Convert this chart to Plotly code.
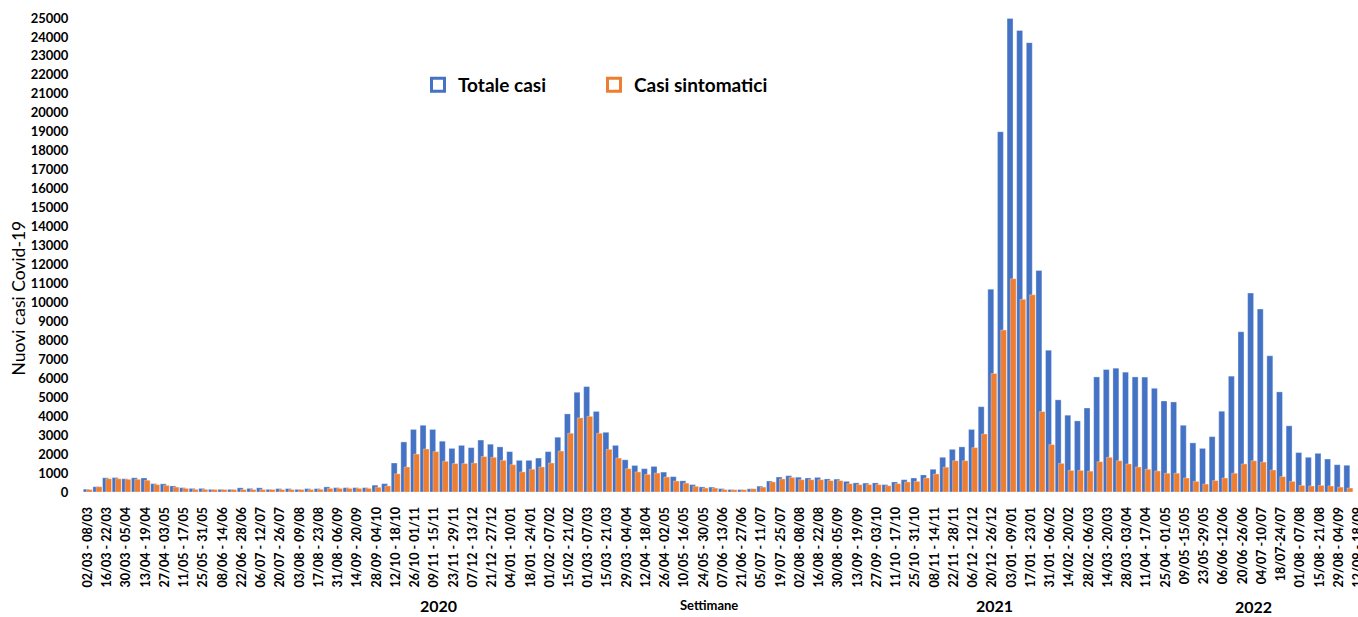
import plotly.graph_objects as go
import pandas as pd

# ---- categories: one entry per week (02/03/2020 ... 12/09/2022) ----
week_starts = pd.date_range("2020-03-02", "2022-09-12", freq="7D")
weeks = [f"{d:%d/%m/%Y} - {(d + pd.Timedelta(days=6)):%d/%m/%Y}" for d in week_starts]

# ---- tick labels shown in the chart (every other week) ----
tick_labels = [
    "02/03 - 08/03", "16/03 - 22/03", "30/03 - 05/04", "13/04 - 19/04", "27/04 - 03/05",
    "11/05 - 17/05", "25/05 - 31/05", "08/06 - 14/06", "22/06 - 28/06", "06/07 - 12/07",
    "20/07 - 26/07", "03/08 - 09/08", "17/08 - 23/08", "31/08 - 06/09", "14/09 - 20/09",
    "28/09 - 04/10", "12/10 - 18/10", "26/10 - 01/11", "09/11 - 15/11", "23/11 - 29/11",
    "07/12 - 13/12", "21/12 - 27/12", "04/01 - 10/01", "18/01 - 24/01", "01/02 - 07/02",
    "15/02 - 21/02", "01/03 - 07/03", "15/03 - 21/03", "29/03 - 04/04", "12/04 - 18/04",
    "26/04 - 02/05", "10/05 - 16/05", "24/05 - 30/05", "07/06 - 13/06", "21/06 - 27/06",
    "05/07 - 11/07", "19/07 - 25/07", "02/08 - 08/08", "16/08 - 22/08", "30/08 - 05/09",
    "13/09 - 19/09", "27/09 - 03/10", "11/10 - 17/10", "25/10 - 31/10", "08/11 - 14/11",
    "22/11 - 28/11", "06/12 - 12/12", "20/12 - 26/12", "03/01 - 09/01", "17/01 - 23/01",
    "31/01 - 06/02", "14/02 - 20/02", "28/02 - 06/03", "14/03 - 20/03", "28/03 - 03/04",
    "11/04 - 17/04", "25/04 - 01/05", "09/05 -15/05", "23/05 -29/05", "06/06 -12/06",
    "20/06 -26/06", "04/07 -10/07", "18/07-24/07", "01/08 - 07/08", "15/08 - 21/08",
    "29/08 - 04/09", "12/09 - 18/09",
]

# ---- series values; last week is cut off in the original ----
totale_casi = [
    150, 280, 750, 760, 700, 750, 740, 440, 430, 320,
    230, 190, 190, 140, 140, 140, 220, 190, 220, 140,
    180, 180, 140, 180, 180, 270, 230, 230, 230, 230,
    360, 440, 1530, 2640, 3300, 3520, 3300, 2680, 2300, 2460,
    2340, 2740, 2520, 2380, 2130, 1670, 1670, 1790, 2130, 2890,
    4120, 5260, 5560, 4250, 3150, 2460, 1700, 1400, 1230, 1350,
    1050, 810, 590, 390, 270, 260, 180, 130, 130, 170,
    310, 580, 790, 860, 780, 740, 770, 690, 680, 560,
    480, 470, 480, 390, 530, 650, 740, 900, 1200, 1830,
    2250, 2380, 3300, 4500, 10700, 19000, 24980, 24340, 23700, 11680,
    7480, 4860, 4050, 3750, 4430, 6070, 6460, 6530, 6320, 6070,
    6060, 5470, 4800, 4750, 3520, 2590, 2300, 2920, 4260, 6110,
    8450, 10490, 9650, 7180, 5280, 3490, 2080, 1830, 2040, 1740,
    1440, 1410, None,
]
casi_sintomatici = [
    130, 280, 700, 700, 670, 670, 620, 390, 350, 260,
    190, 140, 140, 130, 130, 130, 130, 130, 130, 130,
    130, 130, 130, 130, 140, 190, 190, 190, 190, 190,
    250, 320, 960, 1320, 2000, 2270, 2130, 1620, 1500, 1500,
    1530, 1870, 1830, 1670, 1440, 1060, 1200, 1320, 1530, 2160,
    3100, 3910, 3990, 3100, 2250, 1790, 1230, 1060, 930, 1000,
    790, 580, 470, 300, 210, 210, 130, 120, 120, 170,
    260, 530, 690, 770, 650, 650, 650, 600, 600, 440,
    390, 390, 390, 330, 440, 530, 560, 740, 950, 1310,
    1650, 1650, 2340, 3060, 6250, 8540, 11250, 10160, 10400, 4240,
    2500, 1510, 1140, 1140, 1100, 1600, 1830, 1650, 1480, 1320,
    1200, 1110, 990, 990, 740, 560, 420, 600, 740, 990,
    1480, 1650, 1580, 1160, 810, 560, 350, 320, 350, 320,
    260, 210, None,
]

year_labels = ["2020", "2021", "2022"]

BLUE = "#4472C4"
ORANGE = "#ED7D31"
FONT = "Lato"
TXT = "#000000"

W, H = 1358, 617
ML, MR, MT, MB = 83, 0, 18, 125
plot_w = W - ML - MR
plot_h = H - MT - MB

fig = go.Figure()
fig.add_trace(go.Bar(
    x=weeks, y=totale_casi, name="Totale casi",
    marker=dict(color=BLUE, line=dict(color="rgba(255,255,255,0.55)", width=0.6)),
    width=0.62, offset=-0.47, showlegend=False,
))
fig.add_trace(go.Bar(
    x=weeks, y=casi_sintomatici, name="Casi sintomatici",
    marker=dict(color=ORANGE, line=dict(color="rgba(255,255,255,0.55)", width=0.6)),
    width=0.6, offset=-0.13, showlegend=False,
))

# legend entries with hollow square symbols (as in the original)
fig.add_trace(go.Scatter(
    x=[None], y=[None], mode="markers", name="Totale casi", legend="legend",
    marker=dict(symbol="square-open", size=13, color=BLUE, line=dict(width=3, color=BLUE)),
))
fig.add_trace(go.Scatter(
    x=[None], y=[None], mode="markers", name="Casi sintomatici", legend="legend2",
    marker=dict(symbol="square-open", size=13, color=ORANGE, line=dict(width=3, color=ORANGE)),
))

leg_font = dict(family=FONT, size=19, color=TXT, weight="bold")
leg_y = (H - MB - 85) / plot_h

fig.update_layout(
    width=W, height=H,
    margin=dict(l=ML, r=MR, t=MT, b=MB, autoexpand=False),
    paper_bgcolor="white", plot_bgcolor="white",
    barmode="overlay",
    legend=dict(x=(418 - ML) / plot_w, y=leg_y, xanchor="left", yanchor="middle",
                font=leg_font, bgcolor="rgba(0,0,0,0)", itemwidth=30),
    legend2=dict(x=(594 - ML) / plot_w, y=leg_y, xanchor="left", yanchor="middle",
                 font=leg_font, bgcolor="rgba(0,0,0,0)", itemwidth=30),
    xaxis=dict(
        type="category", range=[-0.5, len(weeks) - 1],
        tickmode="array", tickvals=weeks[::2], ticktext=tick_labels,
        tickangle=-90, tickfont=dict(family=FONT, size=12.5, color=TXT, weight="bold"),
        ticks="outside", ticklen=9, tickcolor="rgba(0,0,0,0)",
        showgrid=False, showline=False, zeroline=False, automargin=False,
    ),
    yaxis=dict(
        range=[0, 25000], dtick=1000, tickformat="d",
        tickfont=dict(family=FONT, size=13, color=TXT, weight="bold"),
        ticks="outside", ticklen=11, tickcolor="rgba(0,0,0,0)",
        showgrid=False, showline=False, zeroline=False, automargin=False,
    ),
)

ann_font_year = dict(family=FONT, size=16, color=TXT, weight="bold")
fig.add_annotation(text="Nuovi casi Covid-19", xref="paper", yref="paper",
                   x=(17.5 - ML) / plot_w, y=(H - MB - 298) / plot_h, textangle=-90,
                   xanchor="center", yanchor="middle",
                   showarrow=False, font=dict(family=FONT, size=17.5, color=TXT))
fig.add_annotation(text="Settimane", xref="paper", yref="paper",
                   x=(709 - ML) / plot_w, y=(H - MB - 605) / plot_h, showarrow=False,
                   xanchor="center", yanchor="middle",
                   font=dict(family=FONT, size=13, color=TXT, weight="bold"))
for label, px, py in zip(year_labels, [438, 994, 1253], [605, 605, 606]):
    fig.add_annotation(text=label, xref="paper", yref="paper",
                       x=(px - ML) / plot_w, y=(H - MB - py) / plot_h,
                       xanchor="center", yanchor="middle",
                       showarrow=False, font=ann_font_year)

fig.write_html("out.html", config={"displayModeBar": False},
               post_script="document.body.style.margin='0';document.body.style.overflow='hidden';")
